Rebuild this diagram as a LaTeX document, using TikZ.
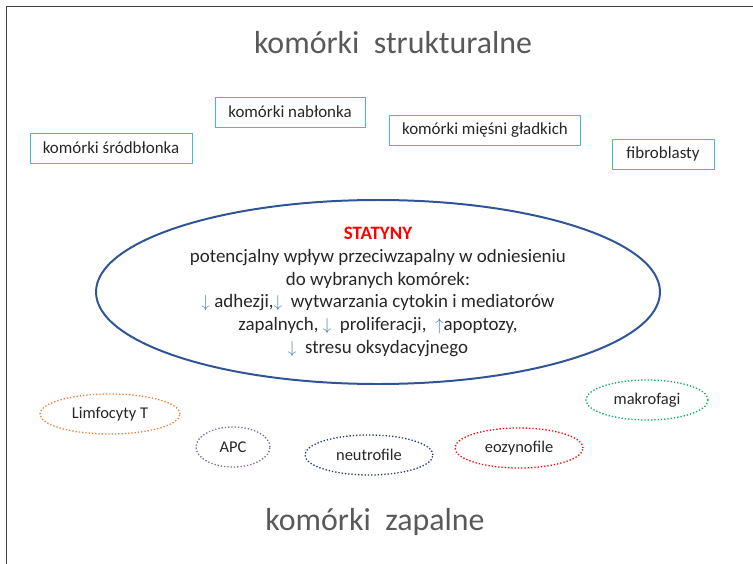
\documentclass[tikz,border=0pt]{standalone}
\usepackage{fontspec}
\setmainfont{Carlito}
\usetikzlibrary{shapes}
\definecolor{framegray}{HTML}{404040}
\definecolor{titlegray}{HTML}{595959}
\definecolor{boxteal}{HTML}{4BB8C6}
\definecolor{ellblue}{HTML}{2F5597}
\definecolor{arrowblue}{HTML}{4F81BD}
\definecolor{lorange}{HTML}{ED7D31}
\definecolor{lpurple}{HTML}{8064A2}
\definecolor{lslate}{HTML}{1F3864}
\definecolor{lred}{HTML}{FF0000}
\definecolor{lgreen}{HTML}{00B050}
\tikzstyle{title}=[text=titlegray, font=\fontsize{32}{36}\selectfont]
\tikzstyle{cellbox}=[draw=boxteal, line width=0.9pt, minimum height=30bp, text=black!85, font=\fontsize{17}{20}\selectfont]
\tikzstyle{inflam}=[ellipse, dotted, line width=1.3pt, minimum height=40bp, inner sep=0pt, text=black!85, font=\fontsize{16.5}{19}\selectfont]
\newcommand{\arrdown}{\textcolor{arrowblue}{$\downarrow$}}
\newcommand{\arrup}{\textcolor{arrowblue}{$\uparrow$}}

\begin{document}
\begin{tikzpicture}[x=1bp, y=-1bp]
\useasboundingbox (0,0) rectangle (753,564);
% frame
\draw[framegray, line width=1.5pt] (753,6.5) -- (6.5,6.5) -- (6.5,564);

% structural cells
\node[title] (struct) at (393,43) {komórki\ \ strukturalne};
\node[cellbox, minimum width=162bp] (srodblonek) at (111,148) {komórki śródbłonka};
\node[cellbox, minimum width=150bp] (nablonek) at (290,112) {komórki nabłonka};
\node[cellbox, minimum width=191bp] (miesnie) at (485,130) {komórki mięśni gładkich};
\node[cellbox, minimum width=102bp] (fibro) at (663,154) {fibroblasty};

% statins
\node[ellipse, draw=ellblue, line width=2pt, minimum width=564bp, minimum height=184bp] (statyny) at (378,292) {};
\node[align=center, font=\fontsize{19}{23}\selectfont, text=black!85] (statynytxt) at (statyny.center) {%
{\color{red}\bfseries STATYNY}\\
potencjalny wpływ przeciwzapalny w odniesieniu\\
do wybranych komórek:\\
\arrdown{} adhezji,\arrdown{}\ \ wytwarzania cytokin i mediatorów\\
zapalnych, \arrdown{}\ \ proliferacji,\ \ \arrup apoptozy,\\
\arrdown{}\ \ stresu oksydacyjnego};

% inflammatory cells
\foreach \name/\x/\y/\w/\col/\txt in {limfo/110/414/140/lorange/Limfocyty T, apc/233/447/74/lpurple/APC,
    neutro/369/455/128/lslate/neutrofile, eozyno/519/448/128/lred/eozynofile, makro/647/400/122/lgreen/makrofagi} {
  \node[inflam, draw=\col, minimum width=\w bp] (\name) at (\x,\y) {\txt};
}
\node[title] (zapalne) at (375,522) {komórki\ \ zapalne};
\end{tikzpicture}
\end{document}
